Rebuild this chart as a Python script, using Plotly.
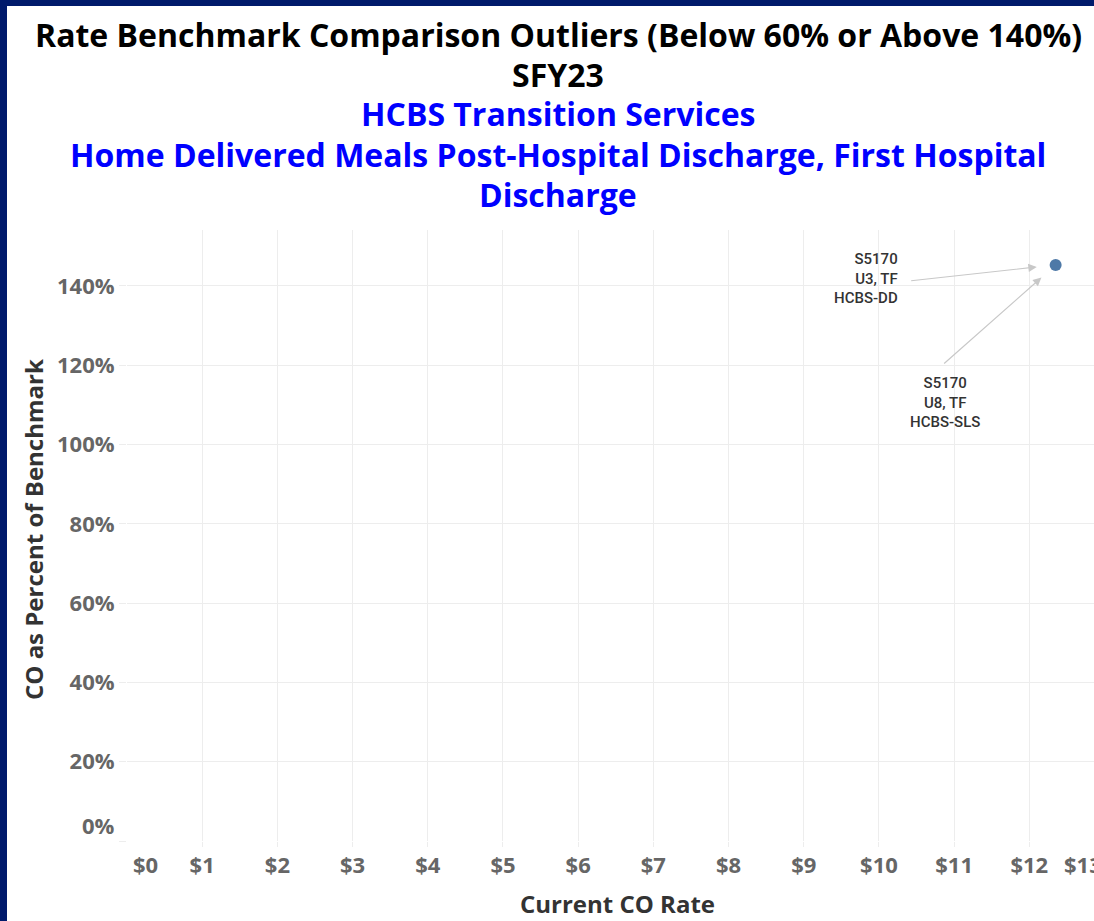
import plotly.graph_objects as go

# ---- data ----
point_rate = [12.35]          # Current CO Rate ($)
point_pct = [1.453]           # CO as Percent of Benchmark
label_dd = "S5170<br>U3, TF<br>HCBS-DD"
label_sls = "S5170<br>U8, TF<br>HCBS-SLS"
x_tick_vals = list(range(1, 13))
x_tick_text = [f"${v}" for v in x_tick_vals]
y_tick_vals = [0.2, 0.4, 0.6, 0.8, 1.0, 1.2, 1.4]
title_lines = [
    ("Rate Benchmark Comparison Outliers (Below 60% or Above 140%)", "#000000"),
    ("SFY23", "#000000"),
    ("HCBS Transition Services", "#0000ff"),
    ("Home Delivered Meals Post-Hospital Discharge, First Hospital", "#0000ff"),
    ("Discharge", "#0000ff"),
]

W, H = 1094, 921
L, R, T, B = 127, 0, 230, 80
PW, PH = W - L - R, H - T - B
XMAX = 12.86
YMAX = 1.541
FONT = "'Open Sans', sans-serif"
NAVY = "#001a6b"
GRID = "#ededed"


def px_x(p):
    return (p - L) / PW


def px_y(p):
    return (H - B - p) / PH


fig = go.Figure()
fig.add_trace(go.Scatter(
    x=point_rate, y=point_pct, mode="markers",
    marker=dict(color="#4e79a7", size=12),
    showlegend=False, hoverinfo="x+y",
))

annotations = []
ys = [34, 74, 114, 154, 194]
for (txt, col), yp in zip(title_lines, ys):
    annotations.append(dict(
        text=f"<b>{txt}</b>", xref="paper", yref="paper",
        x=px_x(558), y=px_y(yp), xanchor="center", yanchor="middle",
        showarrow=False, font=dict(family=FONT, size=32, color=col),
    ))

# axis titles
annotations.append(dict(
    text="<b>CO as Percent of Benchmark</b>", xref="paper", yref="paper",
    x=px_x(33), y=px_y(530), textangle=-90, xanchor="center", yanchor="middle",
    showarrow=False, font=dict(family=FONT, size=24, color="#333333"),
))
annotations.append(dict(
    text="<b>Current CO Rate</b>", xref="paper", yref="paper",
    x=px_x(617), y=px_y(903), xanchor="center", yanchor="middle",
    showarrow=False, font=dict(family=FONT, size=24, color="#333333"),
))

tickfont = dict(family=FONT, size=22, color="#666666")
# shifted edge tick labels (pulled inward, as in the reference)
annotations.append(dict(
    text="<b>$0</b>", xref="x", yref="paper", x=0, y=0, xshift=18, yshift=-23,
    xanchor="center", yanchor="middle", showarrow=False, font=tickfont,
))
annotations.append(dict(
    text="<b>$13</b>", xref="paper", yref="paper", x=px_x(1062), y=0, yshift=-23,
    xanchor="left", yanchor="middle", showarrow=False, font=tickfont,
))
annotations.append(dict(
    text="<b>0%</b>", xref="paper", yref="y", x=0, y=0, xshift=-10, yshift=16,
    xanchor="right", yanchor="middle", showarrow=False, font=tickfont,
))

# point labels
lblfont = dict(family="Roboto, sans-serif", size=15, color="#333333", weight=500)
annotations.append(dict(
    text=label_dd, x=point_rate[0], y=point_pct[0], xref="x", yref="y",
    xshift=-156, yshift=-14, xanchor="right", yanchor="middle", align="right",
    showarrow=False, font=lblfont,
))
annotations.append(dict(
    text=label_sls, x=point_rate[0], y=point_pct[0], xref="x", yref="y",
    xshift=-111, yshift=-138, xanchor="center", yanchor="middle", align="center",
    showarrow=False, font=lblfont,
))
# arrows
for ax, ay in [(-146, 16), (-113, 100)]:
    annotations.append(dict(
        text="", x=point_rate[0], y=point_pct[0], xref="x", yref="y",
        ax=ax, ay=ay, showarrow=True, arrowhead=2, arrowsize=1.4, arrowwidth=1.2,
        arrowcolor="#c8c8c8", standoff=19, font=dict(size=1),
    ))

shapes = [
    dict(type="rect", xref="paper", yref="paper", layer="above",
         x0=px_x(-5), x1=px_x(7), y0=px_y(H + 5), y1=px_y(-5),
         fillcolor=NAVY, line=dict(width=0)),
    dict(type="rect", xref="paper", yref="paper", layer="above",
         x0=px_x(-5), x1=px_x(W + 5), y0=px_y(6), y1=px_y(-5),
         fillcolor=NAVY, line=dict(width=0)),
]

fig.update_layout(
    width=W, height=H,
    margin=dict(l=L, r=R, t=T, b=B, pad=0),
    paper_bgcolor="white", plot_bgcolor="white",
    annotations=annotations, shapes=shapes,
    xaxis=dict(
        range=[0, XMAX], tickvals=x_tick_vals, ticktext=[f"<b>{t}</b>" for t in x_tick_text],
        showgrid=True, gridcolor=GRID, gridwidth=1, zeroline=False,
        ticks="outside", ticklen=5, tickcolor=GRID, tickfont=tickfont,
        showline=False, fixedrange=True,
    ),
    yaxis=dict(
        range=[0, YMAX], tickvals=[0] + y_tick_vals,
        ticktext=[""] + [f"<b>{int(round(v*100))}%</b>" for v in y_tick_vals],
        showgrid=True, gridcolor=GRID, gridwidth=1, zeroline=False,
        ticks="outside", ticklen=7, tickcolor=GRID, tickfont=tickfont,
        showline=False, fixedrange=True,
    ),
)

fig.write_html(
    "out.html",
    config={"displayModeBar": False},
    post_script="document.body.style.margin='0';document.body.style.overflow='hidden';",
)
